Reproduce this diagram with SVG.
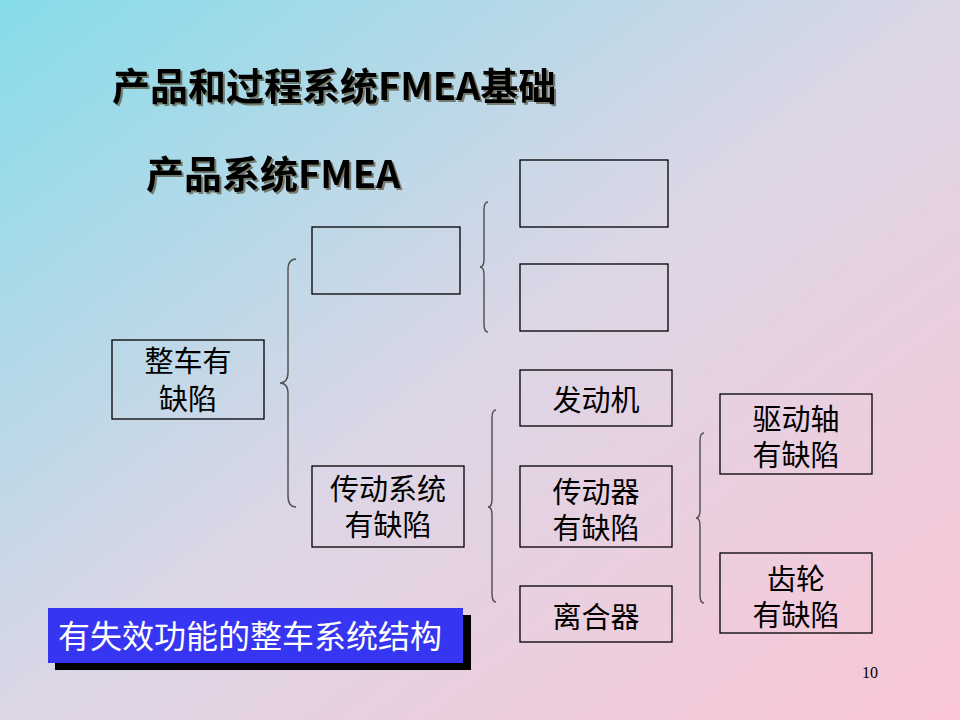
<svg xmlns="http://www.w3.org/2000/svg" width="960" height="720" viewBox="0 0 960 720">
<defs>
<linearGradient id="bg" x1="0" y1="0" x2="1" y2="1">
<stop offset="0" stop-color="#86dcea"/>
<stop offset="0.5" stop-color="#dcd6e6"/>
<stop offset="1" stop-color="#fbc6d6"/>
</linearGradient>
<filter id="sh" x="-5%" y="-20%" width="110%" height="140%">
<feDropShadow dx="2" dy="2" stdDeviation="0.6" flood-color="#4a3a20" flood-opacity="0.6"/>
</filter>
<style>
.box{fill:none;stroke:#000;stroke-width:1.3}
.br{fill:none;stroke:#555;stroke-width:1.5}
.t{font-family:"Noto Sans CJK SC","Noto Sans",sans-serif;font-size:29px;fill:#000;text-anchor:middle}
.h{font-family:"Noto Sans CJK SC","Noto Sans",sans-serif;font-weight:bold;fill:#000;font-size:38px;filter:url(#sh)}
</style>
</defs>
<rect width="960" height="720" fill="url(#bg)"/>
<g id="title">
<text class="h" x="112" y="100">产品和过程系统FMEA基础</text>
</g>
<g id="subtitle">
<text class="h" x="146" y="188">产品系统FMEA</text>
</g>
<g id="connectors">
<path class="br" d="M296,259 Q288,259 288,270 L288,372 Q288,383 280,383 Q288,383 288,394 L288,496 Q288,507 296,507"/>
<path class="br" d="M488,202 Q484,202 484,210 L484,259 Q484,267 480,267 Q484,267 484,275 L484,324 Q484,332 488,332"/>
<path class="br" d="M496,410 Q492,410 492,418 L492,499 Q492,507 488,507 Q492,507 492,515 L492,594 Q492,602 496,602"/>
<path class="br" d="M704,433 Q700,433 700,441 L700,510 Q700,518 696,518 Q700,518 700,526 L700,595 Q700,603 704,603"/>
</g>
<g id="n_empty1"><rect class="box" x="520" y="160" width="148" height="67"/></g>
<g id="n_empty2"><rect class="box" x="520" y="264" width="148" height="67"/></g>
<g id="n_empty3"><rect class="box" x="312" y="227" width="148" height="67"/></g>
<g id="n_zhengche">
<rect class="box" x="112" y="340" width="152" height="79"/>
<text class="t" x="188" y="372">整车有<tspan x="188" y="410">缺陷</tspan></text>
</g>
<g id="n_chuandongxitong">
<rect class="box" x="312" y="466" width="152" height="81"/>
<text class="t" x="388" y="500">传动系统<tspan x="388" y="536">有缺陷</tspan></text>
</g>
<g id="n_fadongji">
<rect class="box" x="520" y="370" width="152" height="56"/>
<text class="t" x="596" y="411">发动机</text>
</g>
<g id="n_chuandongqi">
<rect class="box" x="520" y="466" width="152" height="81"/>
<text class="t" x="596" y="503">传动器<tspan x="596" y="539">有缺陷</tspan></text>
</g>
<g id="n_liheqi">
<rect class="box" x="520" y="586" width="152" height="56"/>
<text class="t" x="596" y="628">离合器</text>
</g>
<g id="n_qudongzhou">
<rect class="box" x="720" y="394" width="152" height="80"/>
<text class="t" x="796" y="430">驱动轴<tspan x="796" y="466">有缺陷</tspan></text>
</g>
<g id="n_chilun">
<rect class="box" x="720" y="553" width="152" height="80"/>
<text class="t" x="796" y="590">齿轮<tspan x="796" y="626">有缺陷</tspan></text>
</g>
<g id="banner">
<rect x="55" y="615" width="416" height="55" fill="#000"/>
<rect x="48" y="608" width="415" height="55" fill="#3636f2"/>
<text x="58" y="648" font-family="Noto Sans CJK SC,Noto Sans,sans-serif" font-size="32" fill="#fff">有失效功能的整车系统结构</text>
</g>
<text x="870" y="678" font-family="Liberation Serif,serif" font-size="16" fill="#000" text-anchor="middle">10</text>
</svg>
